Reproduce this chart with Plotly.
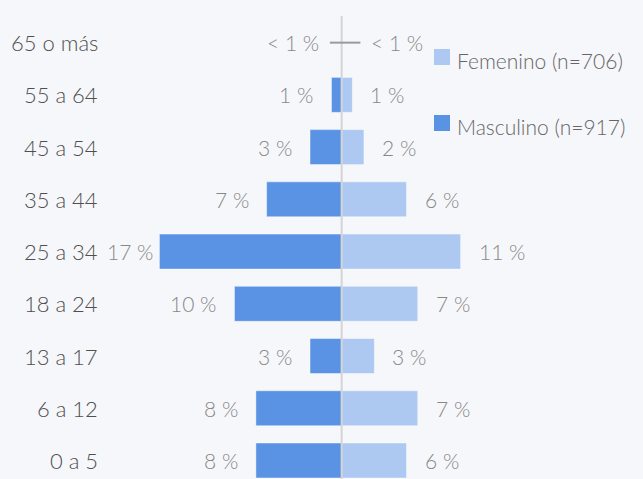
import plotly.graph_objects as go

categories = ["0 a 5", "6 a 12", "13 a 17", "18 a 24", "25 a 34",
              "35 a 44", "45 a 54", "55 a 64", "65 o más"]
masculino = [8.0, 8.0, 2.95, 10.0, 17.0, 7.0, 2.95, 0.95, 0.4]
femenino = [6.05, 7.1, 3.05, 7.1, 11.1, 6.05, 2.08, 1.0, 0.4]
masc_labels = ["8 %", "8 %", "3 %", "10 %", "17 %", "7 %", "3 %", "1 %", "< 1 %"]
fem_labels = ["6 %", "7 %", "3 %", "7 %", "11 %", "6 %", "2 %", "1 %", "< 1 %"]
legend_names = ["Femenino (n=706)", "Masculino (n=917)"]

C_M = "#5a93e3"
C_F = "#adc8f1"
BG = "#f6f7fa"
FONT = "Lato"
W = 300

idx = list(range(len(categories)))
big_m = [(i, v) for i, v in zip(idx, masculino) if v >= 0.5]
big_f = [(i, v) for i, v in zip(idx, femenino) if v >= 0.5]

fig = go.Figure()
fig.add_trace(go.Bar(
    y=[i for i, _ in big_m], x=[-v for _, v in big_m], orientation="h",
    marker=dict(color=C_M, line=dict(color="rgba(255,255,255,0.45)", width=1)),
    width=0.67, name=legend_names[1], showlegend=False, hoverinfo="skip"))
fig.add_trace(go.Bar(
    y=[i for i, _ in big_f], x=[v for _, v in big_f], orientation="h",
    marker=dict(color=C_F, line=dict(color="rgba(255,255,255,0.45)", width=1)),
    width=0.67, name=legend_names[0], showlegend=False, hoverinfo="skip"))

annotations = []
for i, c in zip(idx, categories):
    annotations.append(dict(x=100 / 643, xref="paper", y=i, yref="y", text=c,
                            xanchor="right", yanchor="middle", showarrow=False,
                            font=dict(family=FONT, size=22, color="#4f4f4f", weight=W)))
for i, v, t in zip(idx, masculino, masc_labels):
    if v < 0.5:
        annotations.append(dict(x=0, y=i, text=t, xanchor="right", xshift=-21,
                                showarrow=False, yanchor="middle",
                                font=dict(family=FONT, size=21, color="#888888", weight=W)))
    else:
        annotations.append(dict(x=-v, y=i, text=t, xanchor="right",
                                xshift=-4 if v > 15 else -16, showarrow=False,
                                yanchor="middle",
                                font=dict(family=FONT, size=21, color="#888888", weight=W)))
for i, v, t in zip(idx, femenino, fem_labels):
    if v < 0.5:
        annotations.append(dict(x=0, y=i, text=t, xanchor="left", xshift=27,
                                showarrow=False, yanchor="middle",
                                font=dict(family=FONT, size=21, color="#888888", weight=W)))
    else:
        annotations.append(dict(x=v, y=i, text=t, xanchor="left", xshift=16,
                                showarrow=False, yanchor="middle",
                                font=dict(family=FONT, size=21, color="#888888", weight=W)))

shapes = [
    dict(type="line", xref="x", yref="paper", x0=0, x1=0, y0=0, y1=1,
         line=dict(color="#d4d4d6", width=2), layer="above"),
]
top = len(categories) - 1
shapes.append(dict(type="line", xref="x", yref="y", x0=-1.1, x1=1.75, y0=top, y1=top,
                   line=dict(color="#9a9a9a", width=2)))

leg = [(legend_names[0], C_F, 57), (legend_names[1], C_M, 123)]
for name, col, yc in leg:
    shapes.append(dict(type="rect", xref="paper", yref="paper",
                       x0=434 / 643, x1=450 / 643,
                       y0=1 - (yc + 8 - 16) / 463, y1=1 - (yc - 8 - 16) / 463,
                       fillcolor=col, line=dict(width=0)))
    annotations.append(dict(x=455 / 643, xref="paper", y=1 - (yc + 3 - 16) / 463,
                            yref="paper", text=name, xanchor="left", yanchor="middle",
                            showarrow=False,
                            font=dict(family=FONT, size=21, color="#666666", weight=W)))

fig.update_layout(
    width=643, height=479,
    margin=dict(l=0, r=0, t=16, b=0),
    paper_bgcolor=BG, plot_bgcolor=BG,
    barmode="overlay",
    xaxis=dict(range=[-31.87, 28.11], visible=False, fixedrange=True),
    yaxis=dict(range=[-0.354, 8.51], visible=False, fixedrange=True),
    annotations=annotations, shapes=shapes,
    showlegend=False,
)

fig.write_html("out.html", config={"displayModeBar": False},
               post_script="document.body.style.margin='0';document.body.style.background='" + BG + "';")
